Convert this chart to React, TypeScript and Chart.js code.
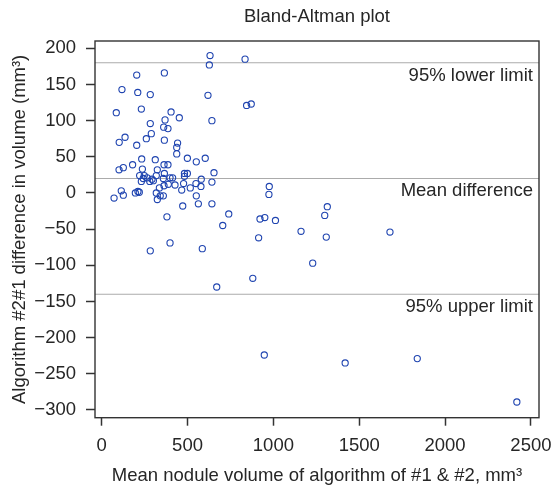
import React, { useEffect, useRef } from 'react';
import { Chart, registerables } from 'chart.js';

Chart.register(...registerables);

const titleText = 'Bland-Altman plot';
const xAxisTitle = 'Mean nodule volume of algorithm of #1 & #2, mm³';
const yAxisTitle = 'Algorithm #2#1 difference in volume (mm³)';

const meanVolume = [
  631, 627, 835, 204, 365, 118, 210, 283, 619, 85,
  231, 404, 844, 871, 369, 452, 642, 283, 361, 386,
  289, 260, 365, 102, 136, 204, 442, 437, 437, 233,
  312, 499, 603, 551, 180, 126, 101, 363, 386, 237,
  324, 654, 221, 248, 265, 293, 318, 365, 398, 413,
  482, 499, 482, 231, 242, 280, 301, 359, 580, 642,
  549, 578, 477, 427, 388, 363, 336, 466, 516, 318,
  341, 359, 324, 196, 211, 219, 114, 126, 72, 551,
  563, 642, 472, 740, 705, 380, 922, 950, 1012, 976,
  974, 914, 283, 398, 586, 880, 670, 1314, 1299, 1161,
  1308, 1679, 1229, 947, 1418, 1838, 2418,
];

const difference = [
  190, 177, 185, 163, 166, 143, 139, 136, 135, 111,
  116, 112, 121, 123, 101, 104, 100, 96, 91, 89,
  82, 75, 73, 70, 77, 66, 69, 63, 54, 47,
  46, 48, 48, 43, 39, 35, 32, 39, 39, 33,
  32, 28, 24, 24, 21, 19, 24, 27, 21, 21,
  27, 27, 23, 16, 20, 16, 17, 20, 19, 15,
  13, 9, 13, 11, 12, 10, 7, 4, 7, 0,
  -4, -4, -9, 0, 2, 1, 3, -3, -7, -4,
  -15, -15, -18, -29, -45, -33, -36, -34, -38, 9,
  -2, -62, -80, -69, -77, -118, -130, -19, -31, -53,
  -61, -54, -97, -224, -235, -229, -289,
];

const refValues = [180, 20, -140];
const refLabels = ['95% lower limit', 'Mean difference', '95% upper limit'];

const xTicks = [0, 500, 1000, 1500, 2000, 2500];
const yTicks = [-300, -250, -200, -150, -100, -50, 0, 50, 100, 150, 200];

const FONT_FAMILY = '"Liberation Sans", Arial, Helvetica, sans-serif';
const FONT_SIZE = 18.5;
const TEXT_COLOR = '#262626';

const overlayPlugin = {
  id: 'overlay',
  beforeDatasetsDraw(chart: any) {
    const { ctx, chartArea, scales } = chart;
    ctx.save();
    ctx.strokeStyle = '#ababab';
    ctx.lineWidth = 1.2;
    refValues.forEach((v) => {
      const y = scales.y.getPixelForValue(v);
      ctx.beginPath();
      ctx.moveTo(chartArea.left, y);
      ctx.lineTo(chartArea.right, y);
      ctx.stroke();
    });
    ctx.restore();
  },
  afterDatasetsDraw(chart: any) {
    const { ctx, chartArea, scales } = chart;
    ctx.save();
    ctx.strokeStyle = '#333333';
    ctx.lineWidth = 1.4;
    ctx.strokeRect(chartArea.left, chartArea.top, chartArea.right - chartArea.left, chartArea.bottom - chartArea.top);
    ctx.fillStyle = TEXT_COLOR;
    ctx.font = `${FONT_SIZE}px ${FONT_FAMILY}`;
    ctx.textAlign = 'right';
    ctx.textBaseline = 'middle';
    refValues.forEach((v, i) => {
      const y = scales.y.getPixelForValue(v);
      ctx.fillText(refLabels[i], chartArea.right - 6, y + 12.7);
    });
    ctx.textAlign = 'center';
    ctx.fillText(titleText, (chartArea.left + chartArea.right) / 2, 16.5);
    ctx.restore();
  },
};

export default function App() {
  const canvasRef = useRef<HTMLCanvasElement | null>(null);

  useEffect(() => {
    const canvas = canvasRef.current;
    if (!canvas) return;
    const points = meanVolume.map((x, i) => ({ x, y: difference[i] }));
    const font = { family: FONT_FAMILY, size: FONT_SIZE };
    const fmt = (v: any) => (Number(v) < 0 ? '\u2212' + Math.abs(Number(v)) : String(v));
    const chart = new Chart(canvas, {
      type: 'scatter',
      data: {
        datasets: [
          {
            data: points,
            pointStyle: 'circle',
            pointRadius: 3.1,
            pointHoverRadius: 3.1,
            pointBorderWidth: 1.1,
            pointBackgroundColor: 'rgba(0,0,0,0)',
            pointBorderColor: '#1f44b0',
          },
        ],
      },
      options: {
        responsive: false,
        animation: false,
        devicePixelRatio: 1,
        layout: { padding: { top: 41, right: 13, left: 0, bottom: 0 } },
        plugins: {
          legend: { display: false },
          title: { display: false },
          tooltip: { enabled: false },
        },
        scales: {
          x: {
            type: 'linear',
            position: 'bottom',
            min: -39,
            max: 2547,
            afterBuildTicks: (scale: any) => {
              scale.ticks = xTicks.map((v) => ({ value: v }));
            },
            afterFit: (scale: any) => {
              scale.height = 69.3;
              scale.paddingLeft = 0;
              scale.paddingRight = 0;
            },
            border: { display: false },
            grid: {
              drawOnChartArea: false,
              drawTicks: true,
              tickLength: 8,
              tickColor: '#333333',
              tickWidth: 1.5,
            },
            ticks: { color: TEXT_COLOR, font, padding: 9, maxRotation: 0, autoSkip: false, callback: fmt },
            title: {
              display: true,
              text: xAxisTitle,
              color: TEXT_COLOR,
              font,
              padding: { top: 6.5, bottom: 0 },
            },
          },
          y: {
            type: 'linear',
            position: 'left',
            min: -310.7,
            max: 210.1,
            afterBuildTicks: (scale: any) => {
              scale.ticks = yTicks.map((v) => ({ value: v }));
            },
            afterFit: (scale: any) => {
              scale.width = 95;
              scale.paddingTop = 0;
              scale.paddingBottom = 0;
            },
            border: { display: false },
            grid: {
              drawOnChartArea: false,
              drawTicks: true,
              tickLength: 9,
              tickColor: '#333333',
              tickWidth: 1.5,
            },
            ticks: {
              color: TEXT_COLOR,
              font,
              padding: 10,
              autoSkip: false,
              callback: fmt,
            },
            title: {
              display: true,
              text: yAxisTitle,
              color: TEXT_COLOR,
              font,
              padding: { top: 9, bottom: 0 },
            },
          },
        },
      },
      plugins: [overlayPlugin],
    });
    return () => chart.destroy();
  }, []);

  return (
    <div style={{ position: 'fixed', left: 0, top: 0, width: 552, height: 487, background: '#ffffff' }}>
      <canvas ref={canvasRef} width={552} height={487} style={{ width: 552, height: 487, display: 'block' }} />
    </div>
  );
}
